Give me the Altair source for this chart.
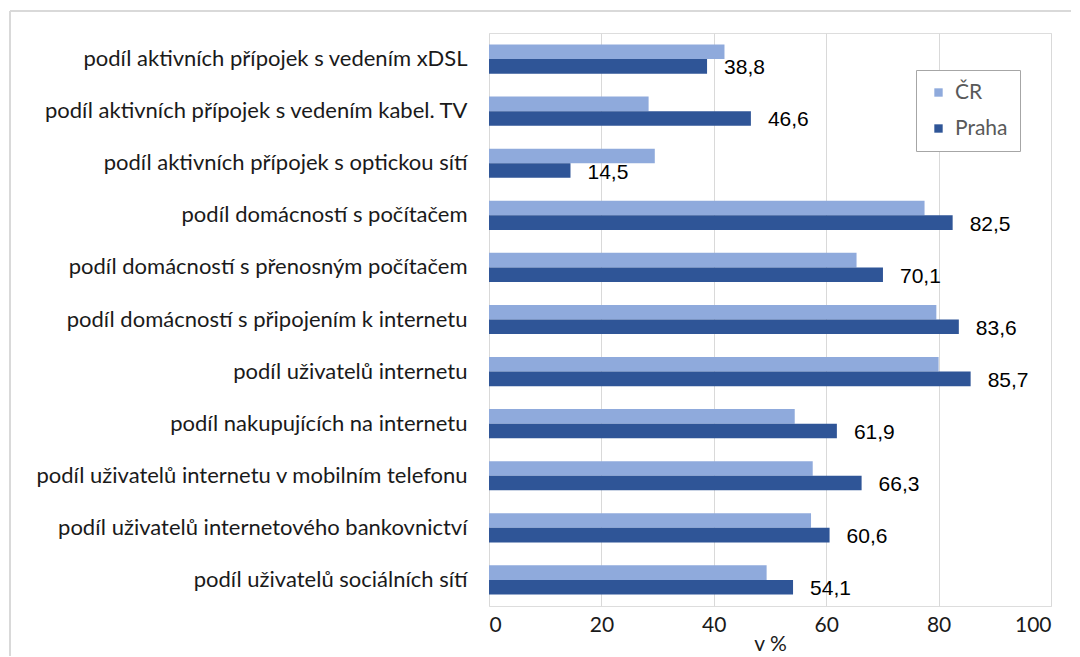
import altair as alt
import pandas as pd

categories = [
    "podíl aktivních přípojek s vedením xDSL",
    "podíl aktivních přípojek s vedením kabel. TV",
    "podíl aktivních přípojek s optickou sítí",
    "podíl domácností s počítačem",
    "podíl domácností s přenosným počítačem",
    "podíl domácností s připojením k internetu",
    "podíl uživatelů internetu",
    "podíl nakupujících na internetu",
    "podíl uživatelů internetu v mobilním telefonu",
    "podíl uživatelů internetového bankovnictví",
    "podíl uživatelů sociálních sítí",
]
cr_values = [41.9, 28.4, 29.5, 77.5, 65.4, 79.6, 80.0, 54.4, 57.6, 57.3, 49.4]
praha_values = [38.8, 46.6, 14.5, 82.5, 70.1, 83.6, 85.7, 61.9, 66.3, 60.6, 54.1]
series = ["ČR", "Praha"]
colors = ["#8FAADC", "#2F5597"]
x_ticks = [0, 20, 40, 60, 80, 100]

rows = []
for c, v in zip(categories, cr_values):
    rows.append({"ukazatel": c, "rada": "ČR", "hodnota": v, "popisek": ""})
for c, v in zip(categories, praha_values):
    rows.append({"ukazatel": c, "rada": "Praha", "hodnota": v,
                 "popisek": f"{v:.1f}".replace(".", ",")})
df = pd.DataFrame(rows)

calibri = "Lato"

x_enc = alt.X("hodnota:Q",
              scale=alt.Scale(domain=[0, 100], nice=False, zero=True),
              axis=alt.Axis(values=x_ticks, title="v %", grid=True, gridColor="#d9d9d9",
                            domain=False, ticks=False, labelFont=calibri, labelFontSize=21,
                            labelColor="#1a1a1a", labelPadding=8, titleFont=calibri,
                            titleFontSize=21, titleFontWeight="normal", titleColor="#1a1a1a",
                            titlePadding=-2))
y_enc = alt.Y("ukazatel:N", sort=categories,
              scale=alt.Scale(paddingInner=0.44, paddingOuter=0.22),
              axis=alt.Axis(title=None, domain=False, ticks=False, grid=False,
                            labelFont=calibri, labelFontSize=22, labelColor="#1a1a1a",
                            labelPadding=22, labelLimit=600))
yoff = alt.YOffset("rada:N", sort=series, scale=alt.Scale(paddingInner=0, paddingOuter=0))

bars = alt.Chart(df).mark_bar().encode(
    x=x_enc, y=y_enc, yOffset=yoff,
    color=alt.Color("rada:N", sort=series,
                    scale=alt.Scale(domain=series, range=colors),
                    legend=alt.Legend(title=None, orient="none", legendX=427, legendY=37,
                                      strokeColor="#a6a6a6", fillColor="white", padding=12,
                                      symbolType="square", symbolSize=70,
                                      symbolStrokeWidth=0, labelFont=calibri,
                                      labelFontSize=21, labelColor="#595959",
                                      rowPadding=14, labelOffset=6)),
)

labels = alt.Chart(df).mark_text(align="left", baseline="middle", dx=17, dy=2,
                                 font="Liberation Sans", fontSize=21, color="#000000").encode(
    x="hodnota:Q", y=alt.Y("ukazatel:N", sort=categories), yOffset=alt.YOffset("rada:N", sort=series),
    text="popisek:N",
)

frame_df = pd.DataFrame({"a": [0]})
frame_left = alt.Chart(frame_df).mark_rule(color="#d9d9d9", strokeWidth=2).encode(
    x=alt.value(-479), y=alt.value(-22), y2=alt.value(700))
frame_top = alt.Chart(frame_df).mark_rule(color="#d9d9d9", strokeWidth=2).encode(
    x=alt.value(-479), x2=alt.value(700), y=alt.value(-22))

chart = alt.layer(bars, labels, frame_left, frame_top).properties(
    width=562, height=573,
    autosize=alt.AutoSizeParams(type="none"),
    padding={"left": 481, "top": 25, "right": 20, "bottom": 50},
).configure_view(stroke="#b0b0b0", strokeWidth=1.5).configure(background="white")

chart.save("out.html", embed_options={"renderer": "svg", "actions": False})
